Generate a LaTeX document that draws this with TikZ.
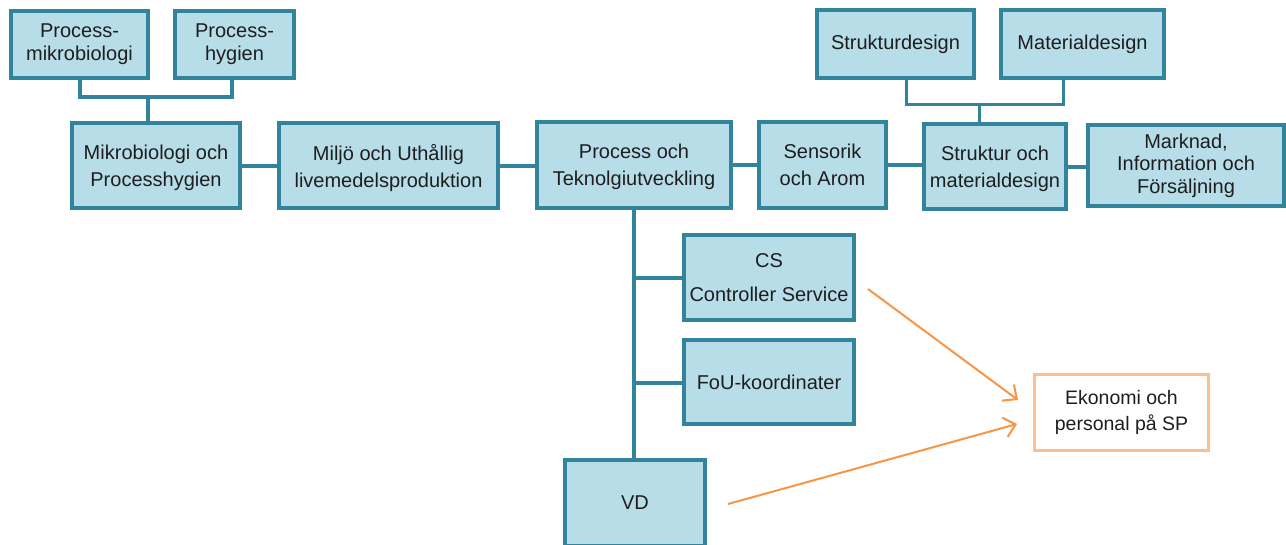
\documentclass[tikz,border=0pt]{standalone}
\usepackage{fontspec}
\setmainfont{Liberation Sans}
\usetikzlibrary{arrows.meta}
\definecolor{boxfill}{HTML}{B7DDE8}
\definecolor{boxline}{HTML}{31849B}
\definecolor{arrowor}{HTML}{F79646}
\definecolor{ekline}{HTML}{FAC090}
\definecolor{txt}{HTML}{1E1E1E}
\tikzset{
  box/.style={draw=boxline, fill=boxfill, line width=4pt, inner sep=0pt, outer sep=0pt,
    align=center, text=txt, font=\fontsize{20}{27}\selectfont},
  conn/.style={draw=boxline, line width=4pt},
  thinconn/.style={draw=boxline, line width=3pt},
  ekbox/.style={draw=ekline, fill=white, line width=3pt, inner sep=0pt, outer sep=0pt,
    align=center, text=txt, font=\fontsize{19.5}{26}\selectfont},
  orarrow/.style={draw=arrowor, line width=2pt, -{Straight Barb[length=11pt,width=20pt,line width=2pt]}}
}
\begin{document}
\begin{tikzpicture}[x=1pt,y=-1pt]
\useasboundingbox (0,0) rectangle (1286,544);
\fill[white] (0,0) rectangle (1286,544);
% top left
\node[box, minimum width=137pt, minimum height=67pt, font=\fontsize{20}{23}\selectfont] (PM) at (79.5,44.5) {Process-\\mikrobiologi};
\node[box, minimum width=119pt, minimum height=67pt, font=\fontsize{20}{23}\selectfont] (PH) at (234.5,44.5) {Process-\\hygien};
% main row
\node[box, minimum width=168pt, minimum height=85pt, text depth=0pt] (MB) at (156,165.5) {Mikrobiologi och\\Processhygien};
\node[box, minimum width=219pt, minimum height=85pt, text depth=0pt] (ML) at (388.5,165.5) {Miljö och Uthållig\\livemedelsproduktion};
\node[box, minimum width=194pt, minimum height=86pt, text depth=0pt] (PT) at (634,165) {Process och\\Teknolgiutveckling};
\node[box, minimum width=127pt, minimum height=86pt, text depth=0pt] (SA) at (822.5,165) {Sensorik\\och Arom};
\node[box, minimum width=142pt, minimum height=85pt, text depth=0pt] (SM) at (995,166.5) {Struktur och\\materialdesign};
\node[box, minimum width=196pt, minimum height=81pt, font=\fontsize{20}{22.5}\selectfont] (MK) at (1186,165.5) {Marknad,\\Information och\\Försäljning};
% top right
\node[box, minimum width=157pt, minimum height=68pt] (SD) at (895.5,44) {Strukturdesign};
\node[box, minimum width=163pt, minimum height=68pt] (MD) at (1082.5,44) {Materialdesign};
% lower column
\node[box, minimum width=170pt, minimum height=85pt, font=\fontsize{20}{34}\selectfont] (CS) at (769,277.5) {CS\\Controller Service};
\node[box, minimum width=170pt, minimum height=84pt] (FOU) at (769,382) {FoU-koordinater};
\node[box, minimum width=140pt, minimum height=86pt] (VD) at (635,503) {VD};
% Ekonomi
\node[ekbox, minimum width=174pt, minimum height=76pt] (EK) at (1121.5,412.5) {Ekonomi och\\personal på SP};

% left bracket
\coordinate (b1) at (79.5,97);
\coordinate (b2) at (232,97);
\coordinate (j1) at (148,97);
\draw[conn] (PM.south) -- (b1) -- (b2) -- (b2 |- PH.south);
\draw[conn] (j1) -- (j1 |- MB.north);
% right bracket
\coordinate (c1) at (906,104);
\coordinate (c2) at (1063,104);
\coordinate (j2) at (979,104);
\draw[thinconn] (c1 |- SD.south) -- (c1) -- (c2) -- (c2 |- MD.south);
\draw[thinconn] (j2) -- (j2 |- SM.north);
% main row connectors
\draw[conn] (MB.east) -- (MB.east -| ML.west);
\draw[conn] (ML.east) -- (ML.east -| PT.west);
\draw[conn] (PT.east) -- (PT.east -| SA.west);
\draw[conn] (SA.east) -- (SA.east -| SM.west);
\draw[conn] (SM.east) -- (SM.east -| MK.west);
% trunk
\draw[conn] (PT.south) -- (PT.south |- VD.north);
\coordinate (t1) at (634,278);
\coordinate (t2) at (634,383);
\draw[conn] (t1) -- (t1 -| CS.west);
\draw[conn] (t2) -- (t2 -| FOU.west);
% orange arrows
\coordinate (a1s) at (868,289);
\coordinate (a1e) at (1018,400);
\coordinate (a2s) at (728,504);
\coordinate (a2e) at (1017,424);
\draw[orarrow] (a1s) -- (a1e);
\draw[orarrow] (a2s) -- (a2e);
\end{tikzpicture}
\end{document}
